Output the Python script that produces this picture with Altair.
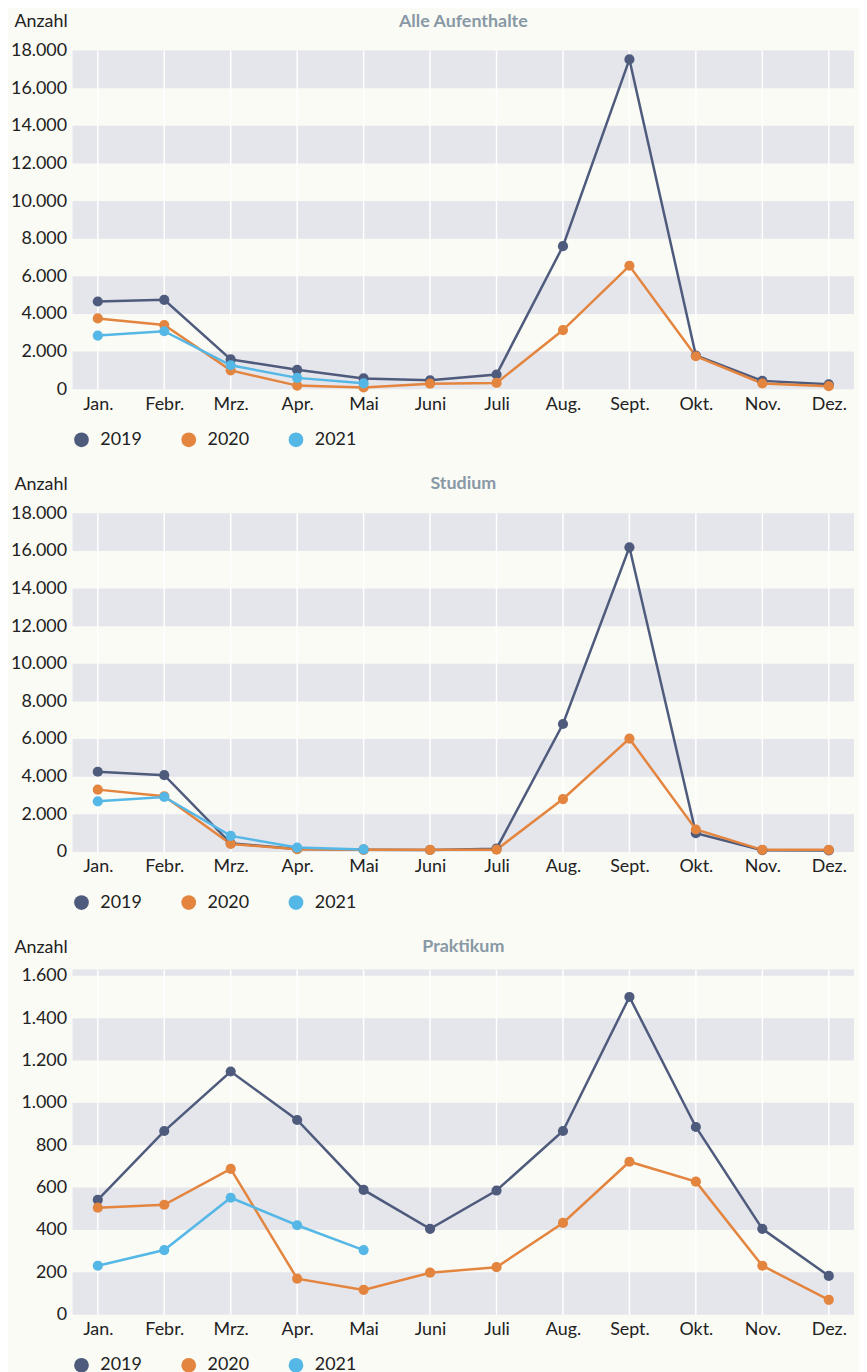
import altair as alt
import pandas as pd

months = ["Jan.", "Febr.", "Mrz.", "Apr.", "Mai", "Juni", "Juli", "Aug.", "Sept.", "Okt.", "Nov.", "Dez."]
years = ["2019", "2020", "2021"]
colors = ["#4e5b7c", "#e3843f", "#55b7e6"]

# Alle Aufenthalte
alle_2019 = [4660, 4750, 1580, 1030, 570, 470, 780, 7600, 17530, 1790, 440, 260]
alle_2020 = [3760, 3410, 1000, 190, 90, 290, 330, 3140, 6560, 1750, 300, 160]
alle_2021 = [2850, 3080, 1270, 600, 310]

# Studium
stud_2019 = [4260, 4080, 460, 160, 120, 100, 170, 6800, 16190, 990, 90, 80]
stud_2020 = [3310, 2960, 420, 140, 110, 110, 120, 2810, 6020, 1190, 110, 110]
stud_2021 = [2690, 2920, 850, 230, 130]

# Praktikum
prak_2019 = [542, 867, 1148, 919, 589, 405, 586, 867, 1500, 886, 405, 183]
prak_2020 = [505, 519, 688, 170, 117, 198, 224, 433, 722, 628, 231, 70]
prak_2021 = [231, 305, 552, 422, 305]

ticks_big = [0, 2000, 4000, 6000, 8000, 10000, 12000, 14000, 16000, 18000]
bands_big_lo = [0, 4000, 8000, 12000, 16000]
bands_big_hi = [2000, 6000, 10000, 14000, 18000]

ticks_small = [0, 200, 400, 600, 800, 1000, 1200, 1400, 1600]
bands_small_lo = [0, 400, 800, 1200, 1600]
bands_small_hi = [200, 600, 1000, 1400, 1630]

FONT = "Lato"
FS = 18
BG = "#fafbf5"
BAND = "#e5e6eb"
TXT = "#222222"
PLOT_W = 787


def panel(title, s19, s20, s21, ymax, height, ticks, lo, hi, title_y):
    rows = []
    for yr, s in zip(years, [s19, s20, s21]):
        for m, v in zip(months, s):
            rows.append({"month": m, "year": yr, "value": v})
    df = pd.DataFrame(rows)
    bands = pd.DataFrame({"lo": lo, "hi": hi})
    mdf = pd.DataFrame({"month": months})

    xaxis = alt.Axis(
        title=None, labelAngle=0, labelFontSize=FS, labelColor=TXT,
        labelFont=FONT, ticks=False, domain=False, grid=False, labelPadding=6,
    )
    xscale = alt.Scale(type="point", padding=0.38)
    yscale = alt.Scale(domain=[0, ymax], nice=False, zero=True)
    yaxis = alt.Axis(
        values=ticks,
        labelExpr="replace(format(datum.value, ',d'), ',', '.')",
        labelFontSize=FS, labelColor=TXT, labelFont=FONT, labelOverlap=False,
        ticks=False, domain=False, grid=False, labelPadding=6,
        title="Anzahl", titleAngle=0, titleAlign="left", titleBaseline="middle",
        titleX=-59, titleY=title_y, titleFontSize=FS, titleFontWeight="normal",
        titleColor=TXT, titleFont=FONT,
    )
    legend = alt.Legend(
        title=None, orient="none", legendX=0, legendY=height + 42,
        direction="horizontal", symbolType="circle", symbolSize=220,
        symbolStrokeWidth=0, labelFontSize=FS, labelFont=FONT,
        labelColor=TXT, labelOffset=10, columnPadding=38, padding=0,
    )
    color_scale = alt.Scale(domain=years, range=colors)

    band_layer = alt.Chart(bands).mark_rect(color=BAND).encode(
        x=alt.value(0), x2=alt.value(PLOT_W),
        y=alt.Y("lo:Q", scale=yscale, axis=yaxis),
        y2="hi:Q",
    )
    grid_layer = alt.Chart(mdf).mark_rule(color="#ffffff", strokeWidth=1.5).encode(
        x=alt.X("month:N", sort=months, scale=xscale, axis=xaxis)
    )
    line_layer = alt.Chart(df).mark_line(strokeWidth=2.5).encode(
        x=alt.X("month:N", sort=months, scale=xscale, axis=xaxis),
        y=alt.Y("value:Q", scale=yscale, axis=yaxis),
        color=alt.Color("year:N", scale=color_scale, legend=legend),
        detail="year:N",
    )
    point_layer = alt.Chart(df).mark_point(filled=True, size=105, opacity=1).encode(
        x=alt.X("month:N", sort=months, scale=xscale, axis=xaxis),
        y=alt.Y("value:Q", scale=yscale, axis=yaxis),
        color=alt.Color("year:N", scale=color_scale, legend=legend),
    )
    return alt.layer(band_layer, grid_layer, line_layer, point_layer).properties(
        width=PLOT_W, height=height,
        title=alt.TitleParams(
            text=title, anchor="middle", color="#8898a5", fontSize=FS,
            fontWeight="bold", font=FONT, offset=-18,
        ),
    )


p1 = panel("Alle Aufenthalte", alle_2019, alle_2020, alle_2021, 18000, 341,
           ticks_big, bands_big_lo, bands_big_hi, -29)
p2 = panel("Studium", stud_2019, stud_2020, stud_2021, 18000, 341,
           ticks_big, bands_big_lo, bands_big_hi, -29)
p3 = panel("Praktikum", prak_2019, prak_2020, prak_2021, 1627, 347,
           ticks_small, bands_small_lo, bands_small_hi, -23)

chart = alt.vconcat(p1, p2, p3, spacing=27).resolve_scale(
    color="independent", y="independent"
).resolve_legend(color="independent").configure(
    background=BG,
    padding={"left": 2, "top": 0, "right": 5, "bottom": 5},
).configure_view(stroke=None, fill=None)

chart.save("out.html", embed_options={"renderer": "svg", "actions": False})
